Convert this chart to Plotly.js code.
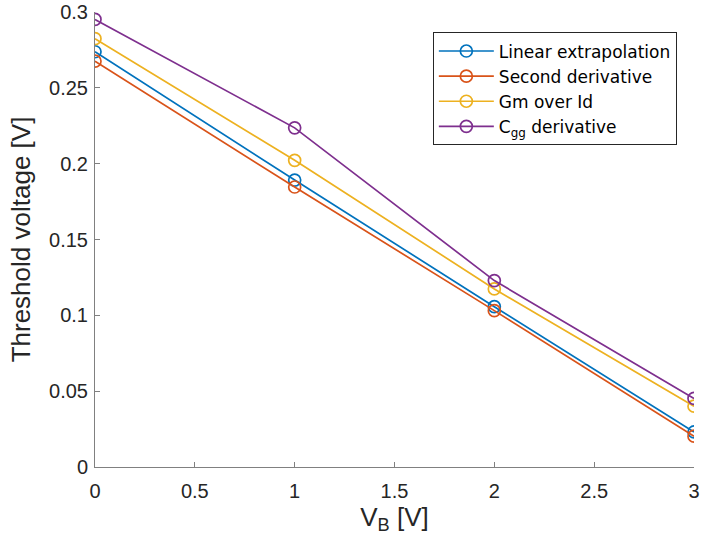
<!DOCTYPE html>
<html>
<head>
<meta charset="utf-8">
<script src="https://cdn.plot.ly/plotly-3.0.1.min.js"></script>
<style>html,body{margin:0;padding:0;background:#fff;}#chart{width:702px;height:547px;}</style>
</head>
<body>
<div id="chart"></div>
<script>
const vb = [0, 1, 2, 3];
const linearExtrapolation = [0.2738, 0.1892, 0.1057, 0.0231];
const secondDerivative = [0.2676, 0.1846, 0.1031, 0.0203];
const gmOverId = [0.2824, 0.2022, 0.1174, 0.0401];
const cggDerivative = [0.2951, 0.2236, 0.1229, 0.0452];
const seriesNames = ["Linear extrapolation", "Second derivative", "Gm over Id", "C<sub>gg</sub> derivative"];
const colors = ["#0072BD", "#D95319", "#EDB120", "#7E2F8E"];
const xTicks = [0, 0.5, 1, 1.5, 2, 2.5, 3];
const xTickText = ["0", "0.5", "1", "1.5", "2", "2.5", "3"];
const yTicks = [0, 0.05, 0.1, 0.15, 0.2, 0.25, 0.3];
const yTickText = ["0", "0.05", "0.1", "0.15", "0.2", "0.25", "0.3"];

const ys = [linearExtrapolation, secondDerivative, gmOverId, cggDerivative];
const traces = ys.map((y, i) => ({
  x: vb, y: y, name: seriesNames[i], type: "scatter", mode: "lines+markers",
  line: {color: colors[i], width: 1.7},
  marker: {symbol: "circle-open", size: 12, color: colors[i], line: {width: 1.7, color: colors[i]}}
}));

const FONT = "Liberation Sans, Arial, sans-serif";
const axisCommon = {
  showgrid: false, zeroline: false, showline: true, linecolor: "#808080", linewidth: 1,
  ticks: "inside", ticklen: 5, tickcolor: "#808080", tickwidth: 1,
  tickfont: {family: FONT, size: 20, color: "#262626"},
  mirror: false
};

const layout = {
  width: 702, height: 547,
  margin: {l: 95, r: 8, t: 12, b: 80},
  paper_bgcolor: "#fff", plot_bgcolor: "#fff",
  font: {family: FONT, color: "#262626"},
  xaxis: Object.assign({}, axisCommon, {
    range: [0, 3], tickvals: xTicks, ticktext: xTickText, ticklabelstandoff: 6,
    title: {text: "V<sub>B</sub> [V]", font: {family: FONT, size: 26, color: "#262626"}, standoff: 6}
  }),
  yaxis: Object.assign({}, axisCommon, {
    range: [0, 0.3], tickvals: yTicks, ticktext: yTickText, ticklabelstandoff: 2,
    title: {text: "Threshold voltage [V]", font: {family: FONT, size: 26, color: "#262626"}, standoff: 10}
  }),
  showlegend: true,
  legend: {
    x: 0.564, y: 0.955, xanchor: "left", yanchor: "top",
    bgcolor: "#fff", bordercolor: "#262626", borderwidth: 1,
    font: {family: "DejaVu Sans, sans-serif", size: 17, color: "#000"}, itemwidth: 55, tracegroupgap: 0
  }
};

Plotly.newPlot("chart", traces, layout, {displayModeBar: false, staticPlot: true});
</script>
</body>
</html>
